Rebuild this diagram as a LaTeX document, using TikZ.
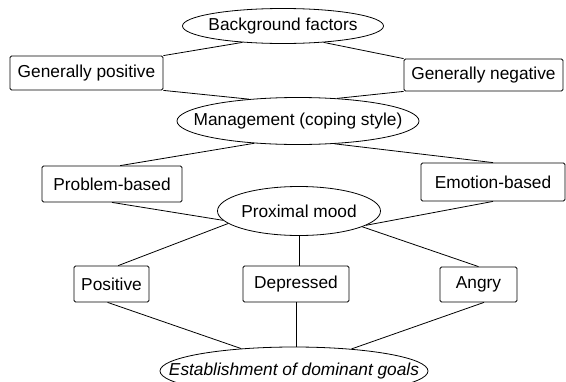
\documentclass[tikz,border=0pt]{standalone}
\usepackage{fontspec}
\setmainfont{Liberation Sans}
\usetikzlibrary{shapes.geometric}
\newcommand{\ztext}[1]{\makebox[0pt]{#1}}
\begin{document}
\begin{tikzpicture}[x=1pt,y=-1pt,
  every node/.style={font=\fontsize{17.3}{20}\selectfont},
  oval/.style={draw,ellipse,inner sep=0pt,line width=0.8pt},
  box/.style={draw,rectangle,rounded corners=1.5pt,inner sep=0pt,line width=0.8pt},
  link/.style={line width=0.8pt}]
\useasboundingbox (0,0) rectangle (566,381);
\clip (0,0) rectangle (566,381);
\node[oval,minimum width=201pt,minimum height=35pt] (bg) at (283,26) {\ztext{Background factors}};
\node[box,minimum width=153pt,minimum height=34pt] (gp) at (86.5,73) {Generally positive};
\node[box,minimum width=159pt,minimum height=32pt] (gn) at (483.5,75) {Generally negative};
\node[oval,minimum width=242pt,minimum height=47pt] (mg) at (298,121) {\ztext{Management (coping style)}};
\node[box,minimum width=140pt,minimum height=36pt] (pb) at (112,184) {Problem-based};
\node[box,minimum width=144pt,minimum height=38pt] (eb) at (493,182) {Emotion-based};
\node[oval,minimum width=163pt,minimum height=49pt] (pm) at (299,211) {\ztext{Proximal mood}};
\node[box,minimum width=75pt,minimum height=36pt] (pos) at (111.5,284) {Positive};
\node[box,minimum width=106pt,minimum height=36pt] (dep) at (296,284) {Depressed};
\node[box,minimum width=77pt,minimum height=35pt] (ang) at (478.5,284.5) {Angry};
\node[oval,minimum width=268pt,minimum height=48pt] (est) at (294,371) {\ztext{\itshape Establishment of dominant goals}};

\draw[link] (gp.north east) -- (bg.202);
\draw[link] (bg.338) -- (gn.north west);
\draw[link] (gp.south east) -- (mg.156);
\draw[link] (mg.30) -- (gn.south west);
\draw[link] (mg.207) -- (pb.66);
\draw[link] (mg.328) -- (eb.north);
\draw[link] (pb.south) -- (pm.187);
\draw[link] (eb.south) -- (pm.348);
\draw[link] (pm.190) -- (pos.70);
\draw[link] (pm.south) -- (pm.south |- dep.north);
\draw[link] (pm.346) -- (ang.north);
\draw[link] (pos.258) -- (est.157);
\draw[link] (dep.south) -- (dep.south |- est.north);
\draw[link] (ang.287) -- (est.21);
\end{tikzpicture}
\end{document}
